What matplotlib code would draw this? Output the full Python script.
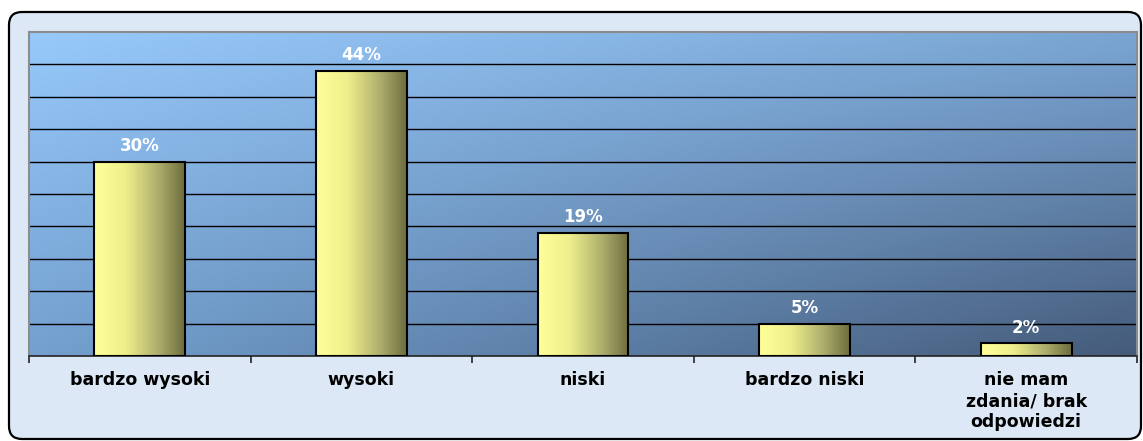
import numpy as np
import matplotlib
matplotlib.use('Agg')
import matplotlib.pyplot as plt
from matplotlib.patches import FancyBboxPatch
from matplotlib.colors import LinearSegmentedColormap, to_rgb

# Data
categories = ['bardzo wysoki', 'wysoki', 'niski', 'bardzo niski',
              'nie mam\nzdania/ brak\nodpowiedzi']
values = [30, 44, 19, 5, 2]

W, H, DPI = 1143, 441, 100
plt.rcParams['font.family'] = ['DejaVu Sans']

fig = plt.figure(figsize=(W / DPI, H / DPI), dpi=DPI)
fig.patch.set_facecolor('white')

# Rounded outer frame (inch based so corners stay round)
frame = FancyBboxPatch((0.09 + 0.13, 0.02 + 0.13), 11.32 - 0.26, 4.27 - 0.26,
                       boxstyle='round,pad=0.13', transform=fig.dpi_scale_trans,
                       fc='#dce8f5', ec='black', lw=1.6, zorder=-10)
fig.patches.append(frame)

ax = fig.add_axes([29 / W, 1 - 356 / H, (1137 - 29) / W, (356 - 32) / H])
ax.set_facecolor('none')

# Plot-area diagonal gradient
tl, tr = np.array(to_rgb('#97c9fb')), np.array(to_rgb('#7aa5d3'))
bl, br = np.array(to_rgb('#73a0cf')), np.array(to_rgb('#455b7a'))
u = np.linspace(0, 1, 200)[None, :, None]
v = np.linspace(0, 1, 80)[:, None, None]
grad = (1 - v) * ((1 - u) * tl + u * tr) + v * ((1 - u) * bl + u * br)
ax.imshow(grad, extent=(0, 1, 0, 1), transform=ax.transAxes, aspect='auto',
          zorder=0, interpolation='bilinear')

x = np.arange(len(categories))

# Gridlines
ax.set_yticks(np.arange(5, 50, 5))
ax.yaxis.grid(True, color='black', lw=1.0, zorder=1)
ax.set_axisbelow(True)
ax.tick_params(axis='y', left=False, labelleft=False)

# Bars with yellow gradient
bar_cmap = LinearSegmentedColormap.from_list(
    'bar', [(0, '#ffff9a'), (0.35, '#eeee8c'), (0.7, '#b0b06e'), (1, '#6e6e40')])
bars = ax.bar(x, values, width=0.41, fc='none', ec='black', lw=1.5, zorder=3)
ramp = np.linspace(0, 1, 100)[None, :]
for b in bars:
    x0, w, h = b.get_x(), b.get_width(), b.get_height()
    im = ax.imshow(ramp, cmap=bar_cmap, extent=(x0, x0 + w, 0, h),
                   aspect='auto', zorder=2, interpolation='bilinear')
    im.set_clip_path(b)

ax.set_xlim(-0.5, len(categories) - 0.5)
ax.set_ylim(0, 50)

# Value labels
for xi, val in zip(x, values):
    ax.annotate(f'{val}%', (xi, val), xytext=(0, 7.5), textcoords='offset points',
                ha='center', va='baseline', color='white', fontsize=12,
                fontweight='bold', zorder=4)

# Axis / ticks
ax.set_xticks(x)
ax.set_xticklabels(categories, fontsize=12.5, fontweight='bold',
                   linespacing=1.22)
ax.tick_params(axis='x', which='major', length=0, pad=11)
ax.set_xticks(np.arange(-0.5, len(categories), 1), minor=True)
ax.tick_params(axis='x', which='minor', length=5, width=1.2, color='#222222',
               direction='out')

for side in ['top', 'left', 'right']:
    ax.spines[side].set_color('#8c8c8c')
    ax.spines[side].set_linewidth(1.5)
ax.spines['bottom'].set_color('#222222')
ax.spines['bottom'].set_linewidth(1.2)

fig.savefig('out.png', dpi=DPI, facecolor='white')
